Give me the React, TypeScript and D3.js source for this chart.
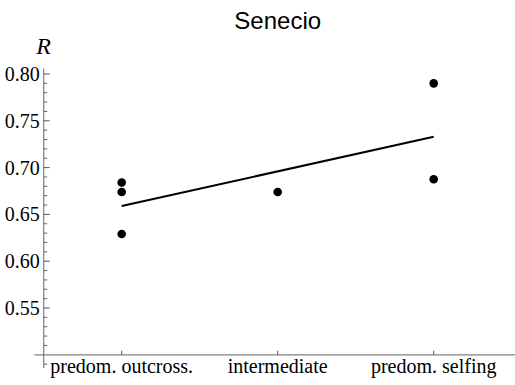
import React from "react";
import * as d3 from "d3";

const title = "Senecio";
const yLabel = "R";
const categories = ["predom. outcross.", "intermediate", "predom. selfing"];
const categoryPos = [1, 2, 3];
const pointCategory = [1, 1, 1, 2, 3, 3];
const pointR = [0.684, 0.674, 0.629, 0.674, 0.79, 0.6875];
const fitCategory = [1, 3];
const fitR = [0.659, 0.733];
const yMajorTicks = [0.55, 0.6, 0.65, 0.7, 0.75, 0.8];
const yMinorTicks = [
  0.49, 0.51, 0.52, 0.53, 0.54, 0.56, 0.57, 0.58, 0.59, 0.61, 0.62, 0.63, 0.64,
  0.66, 0.67, 0.68, 0.69, 0.71, 0.72, 0.73, 0.74, 0.76, 0.77, 0.78, 0.79,
];

const W = 515;
const H = 385;

export default function App() {
  const x = d3.scaleLinear().domain([1, 3]).range([121.7, 433.7]);
  const y = d3.scaleLinear().domain([0.55, 0.8]).range([308, 74]);
  const axisX = x(0.5);
  const axisY = y(0.5);
  const line = d3
    .line<number>()
    .x((_, i) => x(fitCategory[i]))
    .y((d) => y(d));
  const serif = "'Liberation Serif', 'Times New Roman', serif";
  const axisColor = "#808080";
  return (
    <svg
      width={W}
      height={H}
      style={{ position: "fixed", left: 0, top: 0, background: "#fff" }}
    >
      <text
        x={x(2)}
        y={29}
        textAnchor="middle"
        fontFamily="'Liberation Sans', Arial, sans-serif"
        fontSize={24}
        fill="#000"
      >
        {title}
      </text>
      <text
        x={axisX}
        y={54}
        textAnchor="middle"
        fontFamily={serif}
        fontStyle="italic"
        fontSize={24}
        fill="#000"
      >
        {yLabel}
      </text>
      {/* axes */}
      <line x1={axisX} x2={axisX} y1={y(0.806)} y2={y(0.486)} stroke={axisColor} strokeWidth={1.2} />
      <line x1={x(0.44)} x2={W} y1={axisY} y2={axisY} stroke={axisColor} strokeWidth={1.2} />
      {yMajorTicks.map((t) => (
        <g key={"M" + t}>
          <line x1={axisX} x2={axisX + 6} y1={y(t)} y2={y(t)} stroke="#555" strokeWidth={1} />
          <text
            x={axisX - 4}
            y={y(t)}
            dy="0.35em"
            textAnchor="end"
            fontFamily={serif}
            fontSize={20}
            fill="#000"
          >
            {t.toFixed(2)}
          </text>
        </g>
      ))}
      {yMinorTicks.map((t) => (
        <line key={"m" + t} x1={axisX} x2={axisX + 3.5} y1={y(t)} y2={y(t)} stroke="#666" strokeWidth={1} />
      ))}
      {categories.map((c, i) => (
        <g key={c}>
          <line
            x1={x(categoryPos[i])}
            x2={x(categoryPos[i])}
            y1={axisY}
            y2={axisY - 4}
            stroke="#555"
            strokeWidth={1}
          />
          <text
            x={x(categoryPos[i])}
            y={373}
            textAnchor="middle"
            fontFamily={serif}
            fontSize={20}
            fill="#000"
          >
            {c}
          </text>
        </g>
      ))}
      <path d={line(fitR) || ""} fill="none" stroke="#000" strokeWidth={2} />
      {pointR.map((r, i) => (
        <circle key={i} cx={x(pointCategory[i])} cy={y(r)} r={4.3} fill="#000" />
      ))}
    </svg>
  );
}
